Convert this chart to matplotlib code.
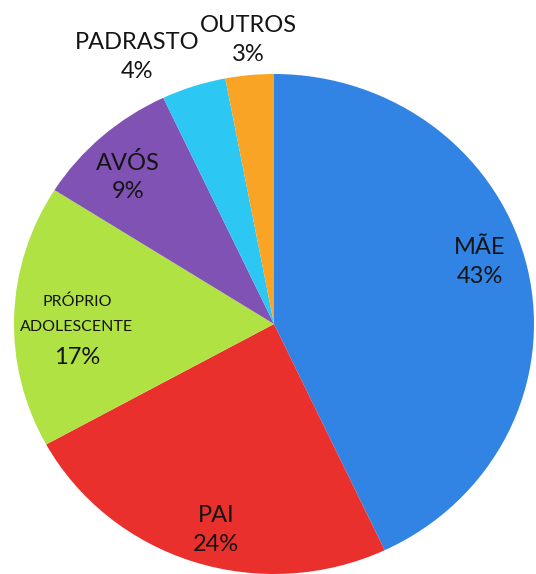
import numpy as np
import matplotlib
matplotlib.use("Agg")
import matplotlib.pyplot as plt

# quem respondeu / responsavel - shares in percent, clockwise from 12 o'clock
labels = ["MÃE", "PAI", "PRÓPRIO\nADOLESCENTE", "AVÓS", "PADRASTO", "OUTROS"]
values = [43, 24, 17, 9, 4, 3]
colors = ["#3183E4", "#E9302C", "#B1E243", "#8052B4", "#2CC8F3", "#FAA425"]

# label placement: radius (fraction of pie) and angle nudge from wedge middle
label_r = [0.83, 0.854, 0.758, 0.813, 1.19, 1.14]
label_dtheta = [4.8, 2.9, 3.0, 2.3, 8.3, -0.4]

plt.rcParams["font.family"] = ["Lato", "DejaVu Sans"]

fig = plt.figure(figsize=(5.36, 5.74), dpi=100)
ax = fig.add_axes([14 / 536, 0.0, 520 / 536, 500 / 574])

wedges, _ = ax.pie(
    values,
    colors=colors,
    startangle=90,
    counterclock=False,
    radius=1.0,
    wedgeprops={"linewidth": 0, "antialiased": True},
)
ax.set_xlim(-1, 1)
ax.set_ylim(-1, 1)
ax.set_aspect("auto")
ax.axis("off")

text_color = "#141414"
for w, lab, val, r, dt in zip(wedges, labels, values, label_r, label_dtheta):
    mid = np.deg2rad((w.theta1 + w.theta2) / 2 + dt)
    x, y = r * np.cos(mid), r * np.sin(mid)
    if "\n" in lab:
        ax.annotate(lab, (x, y), xytext=(0, 10), textcoords="offset points",
                    ha="center", va="center", fontsize=11.5, color=text_color,
                    linespacing=1.95, annotation_clip=False)
        ax.annotate(f"{val}%", (x, y), xytext=(0, -21), textcoords="offset points",
                    ha="center", va="center", fontsize=17, color=text_color,
                    annotation_clip=False)
    else:
        ax.text(x, y, f"{lab}\n{val}%", ha="center", va="center", fontsize=17,
                color=text_color, linespacing=1.45, clip_on=False)

fig.savefig("out.png", dpi=100, facecolor="white")
